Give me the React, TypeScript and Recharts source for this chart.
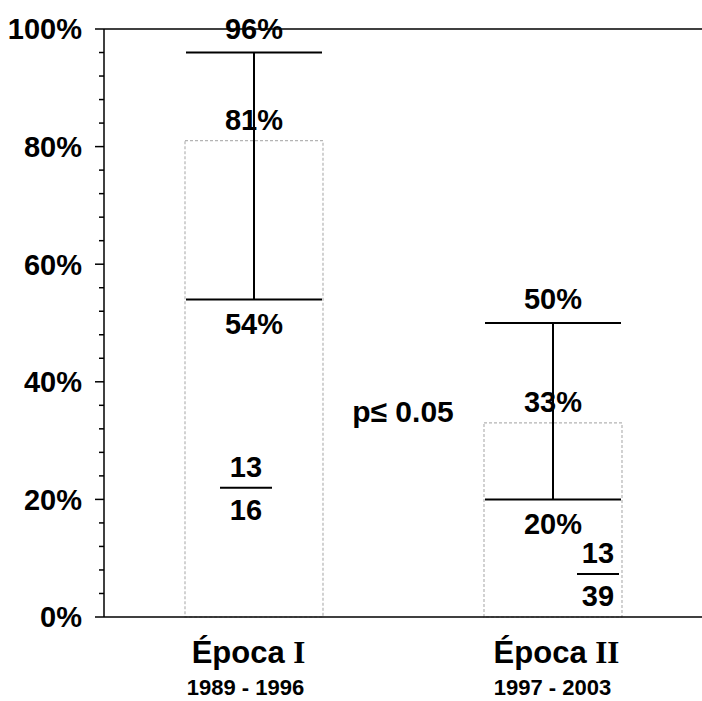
import { BarChart, Bar, XAxis, YAxis, ErrorBar, LabelList, ReferenceLine } from "recharts";

const periods = ["Época I", "Época II"];
const years = ["1989 - 1996", "1997 - 2003"];
const rates = [81, 33];
const lower = [54, 20];
const upper = [96, 50];
const numerators = [13, 13];
const denominators = [16, 39];
const majorTicks = [0, 20, 40, 60, 80, 100];
const allTicks = [0, 4, 8, 12, 16, 20, 24, 28, 32, 36, 40, 44, 48, 52, 56, 60, 64, 68, 72, 76, 80, 84, 88, 92, 96, 100];
const pValue = "p≤ 0.05";

const data = periods.map((p, i) => ({
  period: p,
  years: years[i],
  rate: rates[i],
  lo: lower[i],
  hi: upper[i],
  err: [rates[i] - lower[i], upper[i] - rates[i]],
  num: numerators[i],
  den: denominators[i],
}));

const SANS = "'Liberation Sans', Arial, sans-serif";
const SERIF = "'Liberation Serif', 'Times New Roman', serif";

// fraction placement relative to bar centre (px) and value level of the bar line
const fracPos = [
  { dx: -8, level: 22, half: 26 },
  { dx: 45, level: 7.3, half: 21 },
];
// small horizontal nudges for the category labels
const periodDx = [-5, 4];
const yearsDx = [-8, 0];

function PeriodTick(props: any) {
  const { x, y, payload, index } = props;
  const label: string = payload.value;
  const cut = label.lastIndexOf(" ");
  return (
    <g>
      <text x={x + periodDx[index]} y={y + 46} textAnchor="middle" fontFamily={SANS} fontWeight="bold" fontSize={31} fill="#000">
        {label.slice(0, cut + 1)}
        <tspan fontFamily={SERIF}>{label.slice(cut + 1)}</tspan>
      </text>
      <text x={x + yearsDx[index]} y={y + 78} textAnchor="middle" fontFamily={SANS} fontWeight="bold" fontSize={22} fill="#000">
        {years[index]}
      </text>
    </g>
  );
}

function PercentTick(props: any) {
  const { x, y, payload } = props;
  const v = payload.value;
  const major = majorTicks.includes(v);
  return (
    <g>
      <line x1={x - (major ? 9 : 5)} x2={x} y1={y} y2={y} stroke="#000" strokeWidth={1.5} />
      {major && (
        <text x={x - 22} y={y} dy="0.36em" textAnchor="end" fontFamily={SANS} fontWeight="bold" fontSize={29} fill="#000">
          {v}%
        </text>
      )}
    </g>
  );
}

function BarLabels(props: any) {
  const vb = props.viewBox || props;
  const { x, y, width, height } = vb;
  const i = props.index;
  const d = data[i];
  const k = height / d.rate;
  const base = y + height;
  const yOf = (v: number) => base - v * k;
  const cx = x + width / 2;
  const f = fracPos[i];
  const fx = cx + f.dx;
  const fy = yOf(f.level);
  const t = { fontFamily: SANS, fontWeight: "bold" as const, fontSize: 29, fill: "#000", textAnchor: "middle" as const };
  return (
    <g>
      <text x={cx} y={yOf(d.hi) - 14} {...t}>{d.hi}%</text>
      <text x={cx} y={yOf(d.rate) - 11} {...t}>{d.rate}%</text>
      <text x={cx} y={yOf(d.lo) + 35} {...t}>{d.lo}%</text>
      <text x={fx} y={fy - 11} {...t}>{d.num}</text>
      <line x1={fx - f.half} x2={fx + f.half} y1={fy} y2={fy} stroke="#000" strokeWidth={2} />
      <text x={fx} y={fy + 32} {...t}>{d.den}</text>
    </g>
  );
}

export default function App() {
  return (
    <div style={{ position: "absolute", left: 0, top: 0, background: "#fff" }}>
      <BarChart width={702} height={701} data={data} margin={{ top: 29, right: 0, bottom: 0, left: 0 }} barSize={138}>
        <YAxis
          width={104}
          domain={[0, 100]}
          ticks={allTicks}
          interval={0}
          tickSize={0}
          tickMargin={0}
          tickLine={false}
          axisLine={{ stroke: "#000", strokeWidth: 1.5 }}
          tick={<PercentTick />}
        />
        <XAxis
          dataKey="period"
          height={84}
          tickLine={false}
          tickSize={0}
          tickMargin={0}
          axisLine={{ stroke: "#000", strokeWidth: 1.5 }}
          tick={<PeriodTick />}
        />
        <ReferenceLine y={100} stroke="#000" strokeWidth={1.5} />
        <ReferenceLine
          y={35}
          stroke="none"
          label={{ value: pValue, position: "center", fill: "#000", fontFamily: SANS, fontWeight: "bold", fontSize: 30 }}
        />
        <Bar
          dataKey="rate"
          fill="#fff"
          stroke="#b4b4b4"
          strokeWidth={1.2}
          strokeDasharray="3 2"
          isAnimationActive={false}
        >
          <ErrorBar dataKey="err" direction="y" width={68} stroke="#000" strokeWidth={2} />
          <LabelList dataKey="rate" content={<BarLabels />} />
        </Bar>
      </BarChart>
    </div>
  );
}
